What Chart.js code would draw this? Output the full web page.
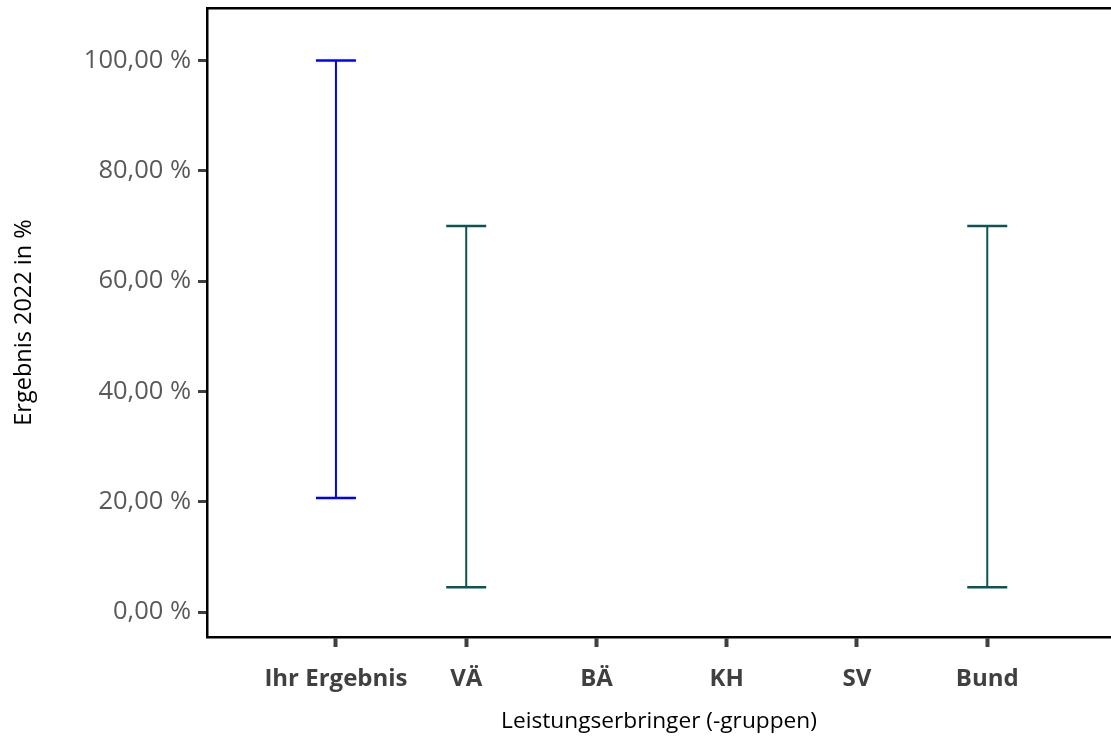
<!DOCTYPE html>
<html>
<head>
<meta charset="utf-8">
<script src="https://cdn.jsdelivr.net/npm/chart.js@4/dist/chart.umd.min.js"></script>
<style>
  html, body { margin: 0; padding: 0; background: #fff; }
  #wrap { width: 1111px; height: 737px; }
</style>
</head>
<body>
<div id="wrap"><canvas id="chart" width="1111" height="737"></canvas></div>
<script>
// Werte
const categories = ['Ihr Ergebnis', 'VÄ', 'BÄ', 'KH', 'SV', 'Bund'];
const lower = [20.7, 4.5, null, null, null, 4.5];
const upper = [100, 70, null, null, null, 70];
const barColors = ['#0000ff', '#0b5550', '#0b5550', '#0b5550', '#0b5550', '#0b5550'];
const yTicks = [0, 20, 40, 60, 80, 100];

// ein Datensatz pro Kategorie: unteres und oberes Ende, Kappen als pointStyle 'line'
const datasets = [];
categories.forEach((c, i) => {
  if (lower[i] == null || upper[i] == null) return;
  datasets.push({
    label: c,
    data: [{ x: i, y: lower[i] }, { x: i, y: upper[i] }],
    showLine: true,
    borderColor: barColors[i],
    borderWidth: 2,
    pointStyle: 'line',
    pointRadius: 20,
    pointHoverRadius: 20,
    pointBorderWidth: 2.5,
    pointBorderColor: barColors[i],
    pointBackgroundColor: barColors[i]
  });
});

const fmt = v => v.toFixed(2).replace('.', ',') + ' %';

// kein automatischer Rand um die Achsenbeschriftungen
const noPad = s => { s.paddingTop = 0; s.paddingBottom = 0; s.paddingLeft = 0; s.paddingRight = 0; };

new Chart(document.getElementById('chart'), {
  type: 'scatter',
  data: { datasets: datasets },
  options: {
    responsive: false,
    animation: false,
    layout: { padding: 0, autoPadding: false },
    plugins: { legend: { display: false }, tooltip: { enabled: false } },
    scales: {
      x: {
        type: 'linear',
        position: 'bottom',
        min: -0.99,
        max: 5.95,
        afterBuildTicks: s => { s.ticks = categories.map((c, i) => ({ value: i })); },
        afterFit: s => { s.height = 100; noPad(s); },
        ticks: {
          callback: v => categories[v],
          color: '#404040',
          font: { family: 'Open Sans', size: 24, weight: 'bold' },
          padding: 18,
          maxRotation: 0,
          autoSkip: false
        },
        grid: { drawOnChartArea: false, drawTicks: true, tickLength: 10, tickWidth: 4, tickColor: '#404040' },
        border: { display: true, color: '#000', width: 2.5 },
        title: {
          display: true,
          text: 'Leistungserbringer (-gruppen)',
          color: '#000',
          font: { family: 'Open Sans', size: 22.7 },
          padding: { top: 0, bottom: 2 }
        }
      },
      x2: {
        type: 'linear',
        position: 'top',
        min: -0.99,
        max: 5.95,
        afterFit: s => { s.height = 8; noPad(s); },
        ticks: { display: false },
        grid: { display: false },
        border: { display: true, color: '#000', width: 2.5 }
      },
      y: {
        min: -4.5,
        max: 109.5,
        afterBuildTicks: s => { s.ticks = yTicks.map(v => ({ value: v })); },
        afterFit: s => { s.width = 207; noPad(s); },
        ticks: {
          callback: v => fmt(v),
          color: '#595959',
          font: { family: 'Open Sans', size: 25.5 },
          padding: 7
        },
        grid: { drawOnChartArea: false, drawTicks: true, tickLength: 9, tickWidth: 3, tickColor: '#404040' },
        border: { display: true, color: '#000', width: 2.5 },
        title: {
          display: true,
          text: 'Ergebnis 2022 in %',
          color: '#000',
          font: { family: 'Open Sans', size: 23.5 },
          padding: { top: 10, bottom: 0 }
        }
      }
    }
  }
});
</script>
</body>
</html>
